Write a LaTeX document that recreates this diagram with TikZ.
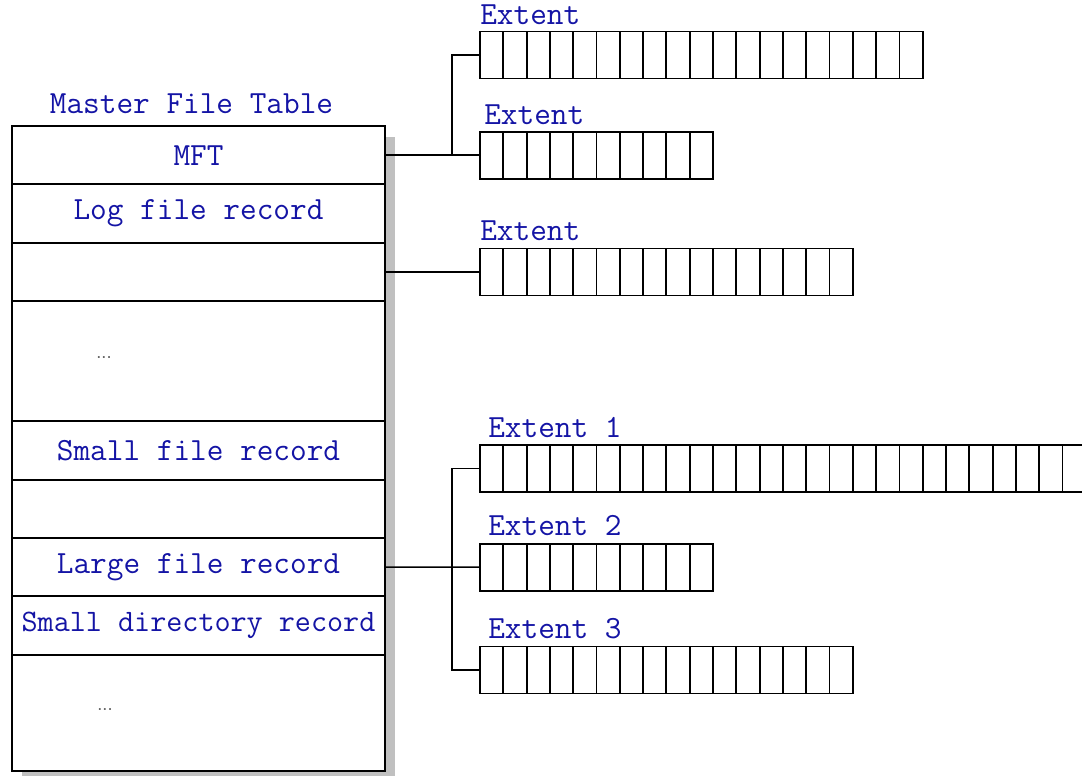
\documentclass[tikz,border=0pt]{standalone}
\usepackage{fontspec}
\setsansfont{Liberation Sans}
\usetikzlibrary
  {
    positioning,  % stack the records below each other
    backgrounds,  % shadow behind the table
  }
\definecolor{mftblue}{RGB}{20,20,165}
\definecolor{shadowgray}{RGB}{192,192,192}
\def\px{0.025cm}

\begin{document}
\begin{tikzpicture}
    [
      x=\px, y=-\px,
      record/.style=
        {
          rectangle,
          draw,
          fill=white,
          line width=1.3pt,
          inner sep=0pt,
          outer sep=0pt,
          minimum width=373*\px,
          minimum height=58.4*\px,
          text=mftblue,
          font=\ttfamily\fontsize{23}{25}\selectfont,
        },
      title/.style=
        {
          inner sep=0pt,
          text=mftblue,
          font=\ttfamily\fontsize{23}{25}\selectfont,
        },
      extentbar/.style=
        {
          rectangle,
          draw,
          line width=1.3pt,
          inner sep=0pt,
          outer sep=0pt,
          anchor=west,
          minimum height=47*\px,
          minimum width=#1*23.3*\px,
        },
      extlabel/.style=
        {
          title,
          anchor=base west,
        },
      gapdots/.style=
        {
          inner sep=0pt,
          text=black!60,
          font=\sffamily\fontsize{13}{13}\selectfont,
        },
      cell/.style={line width=1.3pt},
      link/.style={line width=1.1pt},
    ]
    \useasboundingbox (0,0) rectangle (1082,775);
    \clip (0,0) rectangle (1082,775);

    % the master file table
    \node (mfttitle) [title] at (191.5,104) {Master File Table};
    \node (mft) [record] at (198.5,155.2) {MFT};
    \node (logfile) [record, below=0pt of mft] {Log file record};
    \node (spare1) [record, below=0pt of logfile] {};
    \node (gap1) [record, minimum height=120*\px, below=0pt of spare1] {};
    \node (smallfile) [record, below=0pt of gap1] {Small file record};
    \node (spare2) [record, below=0pt of smallfile] {};
    \node (largefile) [record, below=0pt of spare2] {Large file record};
    \node (smalldir) [record, font=\ttfamily\fontsize{22.2}{25}\selectfont,
                      below=0pt of largefile] {Small directory record};
    \node (gap2) [record, minimum height=116*\px, below=0pt of smalldir] {};
    \node (gap1dots) [gapdots] at ([xshift=92*\px, yshift=4*\px]gap1.west) {...};
    \node (gap2dots) [gapdots] at ([xshift=93*\px, yshift=3*\px]gap2.west) {...};

    \begin{scope}[on background layer]
      \fill [shadowgray] ([shift={(10,11)}]mft.north west)
                         rectangle ([shift={(10,11)}]gap2.south east);
    \end{scope}

    % extents
    \node (mftext1) [extentbar=19] at (480,55) {};
    \node (mftext2) [extentbar=10] at (480,155.2) {};
    \node (recext) [extentbar=16] at (480,272) {};
    \node (largeext1) [extentbar=27] at (480,468.5) {};
    \node (largeext2) [extentbar=10] at (480,567.2) {};
    \node (largeext3) [extentbar=16] at (480,670) {};

    \foreach \extname/\n in {mftext1/19, mftext2/10, recext/16,
                             largeext1/27, largeext2/10, largeext3/16}
      \foreach \i in {1,...,\n}
        \draw [cell] (\extname.north west) ++(\i*23.3,0) -- ++(0,47);

    \node (mftext1label) [extlabel] at ([yshift=7*\px]mftext1.north west) {Extent};
    \node (mftext2label) [extlabel] at ([xshift=4*\px, yshift=7*\px]mftext2.north west) {Extent};
    \node (recextlabel) [extlabel] at ([yshift=8*\px]recext.north west) {Extent};
    \node (largeext1label) [extlabel] at ([xshift=8*\px, yshift=8*\px]largeext1.north west) {Extent 1};
    \node (largeext2label) [extlabel] at ([xshift=8*\px, yshift=8*\px]largeext2.north west) {Extent 2};
    \node (largeext3label) [extlabel] at ([xshift=8*\px, yshift=8*\px]largeext3.north west) {Extent 3};

    % links from the records to their extents
    \coordinate (hubx) at (452,0);
    \draw [link] (mft.east) -- (mftext2.west);
    \draw [link] (mftext1.west) -| (mft.east -| hubx);
    \draw [link] (spare1.east) -- (recext.west);
    \draw [link] (largefile.east) -- (largeext2.west);
    \draw [link] (largeext1.west) -| (largefile.east -| hubx) |- (largeext3.west);
  \end{tikzpicture}
\end{document}
